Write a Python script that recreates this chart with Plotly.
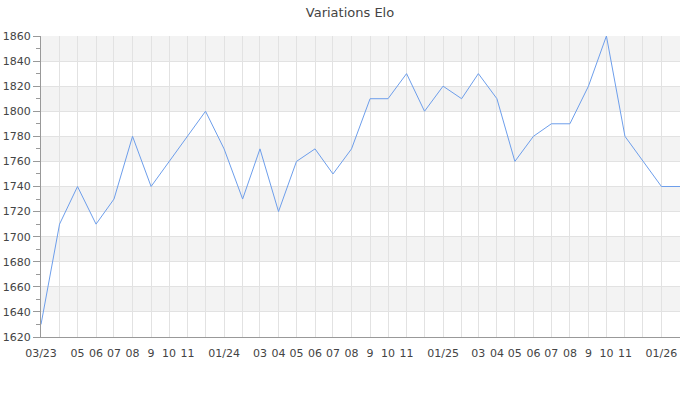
import plotly.graph_objects as go

months = ["2023-03-01","2023-04-01","2023-05-01","2023-06-01","2023-07-01","2023-08-01",
          "2023-09-01","2023-10-01","2023-11-01","2023-12-01","2024-01-01","2024-02-01",
          "2024-03-01","2024-04-01","2024-05-01","2024-06-01","2024-07-01","2024-08-01",
          "2024-09-01","2024-10-01","2024-11-01","2024-12-01","2025-01-01","2025-02-01",
          "2025-03-01","2025-04-01","2025-05-01","2025-06-01","2025-07-01","2025-08-01",
          "2025-09-01","2025-10-01","2025-11-01","2025-12-01","2026-01-01","2026-02-01"]
elo = [1630, 1710, 1740, 1710, 1730, 1780, 1740, 1760, 1780, 1800,
       1770, 1730, 1770, 1720, 1760, 1770, 1750, 1770, 1810, 1810, 1830, 1800,
       1820, 1810, 1830, 1810, 1760, 1780, 1790, 1790, 1820, 1860, 1780, 1760,
       1740, 1740]
tick_labels = ["03/23", "", "05", "06", "07", "08", "9", "10", "11", "",
               "01/24", "", "03", "04", "05", "06", "07", "08", "9", "10", "11", "",
               "01/25", "", "03", "04", "05", "06", "07", "08", "9", "10", "11", "",
               "01/26", ""]
y_ticks = list(range(1620, 1861, 20))

fig = go.Figure()
fig.add_trace(go.Scatter(x=months, y=elo, mode="lines",
                         line=dict(color="#6d9eeb", width=1), hoverinfo="x+y"))

shapes = []
for i in range(len(y_ticks) - 1):
    if i % 2 == 1:
        shapes.append(dict(type="rect", xref="paper", yref="y", x0=0, x1=1,
                           y0=y_ticks[i], y1=y_ticks[i + 1],
                           fillcolor="#f3f3f3", line=dict(width=0), layer="below"))

fig.update_layout(
    width=700, height=400,
    margin=dict(l=41, r=20, t=36, b=63, autoexpand=False),
    paper_bgcolor="white", plot_bgcolor="white",
    showlegend=False,
    shapes=shapes,
    title=dict(text="Variations Elo", x=0.5, xanchor="center", xref="container",
               y=1 - 12 / 400, yref="container", yanchor="middle", automargin=False,
               font=dict(family="DejaVu Sans", size=13, color="#444444")),
    font=dict(family="DejaVu Sans", size=11, color="#444444"),
    xaxis=dict(type="date", range=[months[0], months[-1]], automargin=False,
               tickmode="array", tickvals=months, ticktext=tick_labels,
               showgrid=True, gridcolor="#e2e2e2", gridwidth=1,
               showline=True, linecolor="#999999", linewidth=1,
               ticks="outside", ticklen=6, tickcolor="rgba(0,0,0,0)",
               zeroline=False, tickfont=dict(size=11, color="#444444")),
    yaxis=dict(range=[1620, 1860], tickmode="array", tickvals=y_ticks, automargin=False,
               showgrid=True, gridcolor="#e2e2e2", gridwidth=1,
               showline=True, linecolor="#999999", linewidth=1,
               ticks="outside", ticklen=7, tickcolor="#999999",
               minor=dict(dtick=10, ticks="outside", ticklen=4, tickcolor="#999999", showgrid=False),
               zeroline=False, tickfont=dict(size=11, color="#444444")),
)

fig.write_html("out.html", config={"displayModeBar": False},
               post_script="document.body.style.margin='0';document.body.style.overflow='hidden';")
